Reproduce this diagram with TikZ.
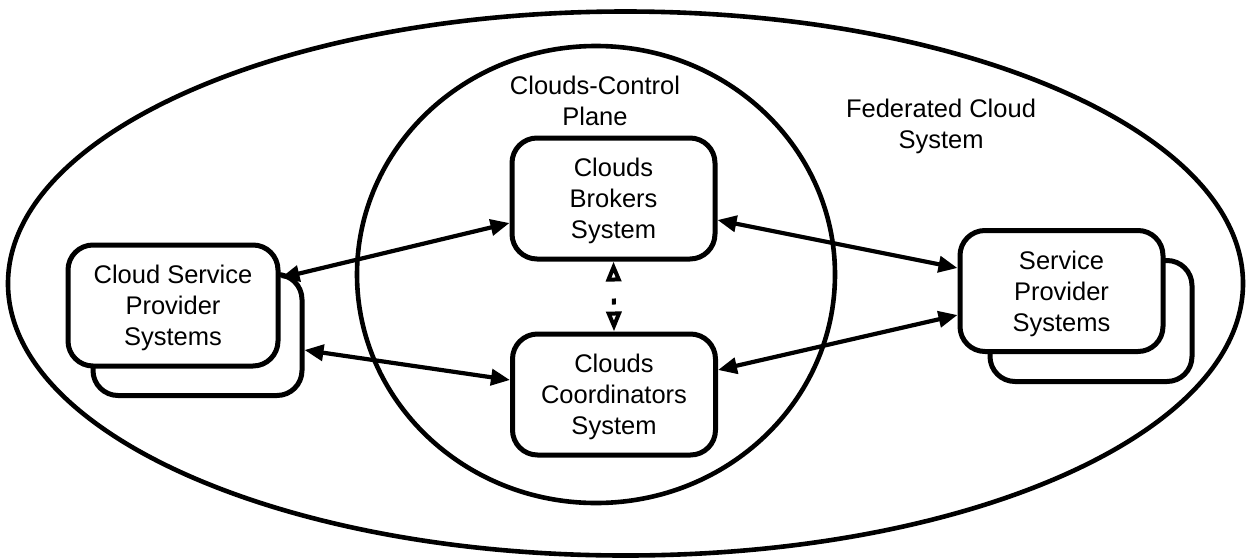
\documentclass[tikz,border=0pt]{standalone}
\usepackage{fontspec}
\setmainfont{Liberation Sans}
\usetikzlibrary{arrows.meta,calc}
\newcommand\diagfont{\fontsize{25.5}{31}\selectfont}
\begin{document}
\begin{tikzpicture}[x=1pt,y=-1pt,
  ring/.style={line width=4.6pt},
  sysbox/.style={draw,line width=5pt,rounded corners=25pt,fill=white,
    minimum width=203pt,minimum height=121pt,inner sep=0pt,
    align=center,font=\diagfont,text depth=-0.5pt},
  caption/.style={align=center,font=\diagfont,inner sep=0pt},
  link/.style={line width=4.2pt,
    {Triangle[length=19pt,width=16pt]}-{Triangle[length=19pt,width=16pt]}},
  ctl/.style={line width=4pt,dash pattern=on 6pt off 30pt,dash phase=18pt,
    {Triangle[open,length=20pt,width=15pt]}-{Triangle[open,length=20pt,width=15pt]}}]
\useasboundingbox (0,0) rectangle (1251,558);

% federated system and control plane
\draw[ring] (625.5,283.5) ellipse [x radius=617.5, y radius=272];
\draw[ring] (596,274.5) ellipse [x radius=239, y radius=228.5];

\node[caption] (plane) at (595,101) {Clouds-Control\\Plane};
\node[caption] (fed) at (941,126) {Federated Cloud\\System};

% control plane components
\node[sysbox] (brk) at (613.5,198.5) {Clouds\\Brokers\\System};
\node[sysbox] (crd) at (614,394.5) {Clouds\\Coordinators\\System};

% provider stacks
\node[sysbox,minimum width=209pt] (cspb) at (197.5,335) {};
\node[sysbox,minimum width=210pt] (csp) at (173,305.5) {Cloud Service\\Provider\\Systems};
\node[sysbox,minimum width=202pt] (spb) at (1091,321) {};
\node[sysbox] (sp) at (1061.5,291) {Service\\Provider\\Systems};

% connections
\draw[link] ($(csp.east)+(0,-27.5)$) -- ($(brk.west)+(0,24.5)$);
\draw[link] ($(cspb.east)+(0,15)$) -- ($(crd.west)+(0,-14.5)$);
\draw[link] ($(brk.east)+(0,21.5)$) -- ($(sp.west)+(0,-23)$);
\draw[link] ($(crd.east)+(0,-24.5)$) -- ($(sp.west)+(0,24)$);
\draw[ctl] (brk.south) -- (crd.north);
\end{tikzpicture}
\end{document}
